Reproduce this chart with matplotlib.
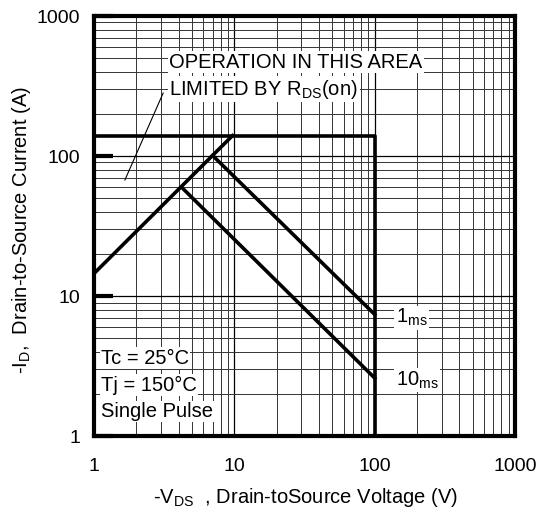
import matplotlib
matplotlib.use("Agg")
import matplotlib.pyplot as plt

# === data ===
limit_v = [1, 100, 100]            # current limit + voltage limit boundary
limit_i = [140, 140, 1]
rds_v = [1, 9.7]                   # R_DS(on) limit line
rds_i = [14.5, 140]
ms1_v = [7.0, 100]                 # 1 ms pulse
ms1_i = [101, 7.4]
ms10_v = [4.2, 100]                # 10 ms pulse
ms10_i = [60, 2.6]
ticks = [1, 10, 100, 1000]
tick_labels = ["1", "10", "100", "1000"]

plt.rcParams['font.family'] = ['Liberation Sans', 'DejaVu Sans']
plt.rcParams['mathtext.fontset'] = 'custom'
plt.rcParams['mathtext.rm'] = 'Liberation Sans'
plt.rcParams['mathtext.it'] = 'Liberation Sans'

FS = 14.5

fig = plt.figure(figsize=(5.45, 5.18), dpi=100)
ax = fig.add_axes([0.1725, 0.158, 0.7725, 0.811])
ax.set_xscale('log')
ax.set_yscale('log')
ax.set_xlim(1, 1000)
ax.set_ylim(1, 1000)

ax.grid(True, which='major', color='black', lw=0.9)
ax.grid(True, which='minor', color='#333333', lw=0.7)
ax.set_axisbelow(True)

lw = 2.6
ax.plot(limit_v, limit_i, color='black', lw=lw, solid_capstyle='butt')
ax.plot(rds_v, rds_i, color='black', lw=lw)
ax.plot(ms1_v, ms1_i, color='black', lw=lw)
ax.plot(ms10_v, ms10_i, color='black', lw=lw)

for s in ax.spines.values():
    s.set_linewidth(3)

ax.set_xticks(ticks)
ax.set_xticklabels(tick_labels)
ax.set_yticks(ticks)
ax.set_yticklabels(tick_labels)
ax.tick_params(axis='x', which='both', length=0, labelsize=14, pad=16)
ax.tick_params(axis='y', which='major', direction='in', length=14, width=3,
               labelsize=14, pad=10)
ax.tick_params(axis='y', which='minor', length=0)

box = dict(facecolor='white', edgecolor='none', pad=1)
ax.text(3.45, 468, "OPERATION IN THIS AREA", fontsize=FS, va='center', bbox=box)
ax.text(3.45, 300, r"LIMITED BY R$_{\mathrm{DS}}$(on)", fontsize=FS, va='center', bbox=box)
ax.plot([3.11, 1.66], [282, 67.5], color='black', lw=0.8)

ax.text(141, 7.0, r"1$_{\mathrm{ms}}$", fontsize=FS, va='center', bbox=box)
ax.text(141, 2.5, r"10$_{\mathrm{ms}}$", fontsize=FS, va='center', bbox=box)

ax.text(1.12, 3.6, "Tc = 25°C", fontsize=FS, va='center', bbox=box)
ax.text(1.12, 2.31, "Tj = 150°C", fontsize=FS, va='center', bbox=box)
ax.text(1.12, 1.5, "Single Pulse", fontsize=FS, va='center', bbox=box)

fig.text(0.04, 0.555, r"-I$_{\mathrm{D}}$,  Drain-to-Source Current (A)",
         rotation=90, fontsize=FS, ha='center', va='center')
fig.text(0.56, 0.04, r"-V$_{\mathrm{DS}}$  , Drain-toSource Voltage (V)",
         fontsize=FS, ha='center', va='center')

fig.savefig("out.png", dpi=100)
